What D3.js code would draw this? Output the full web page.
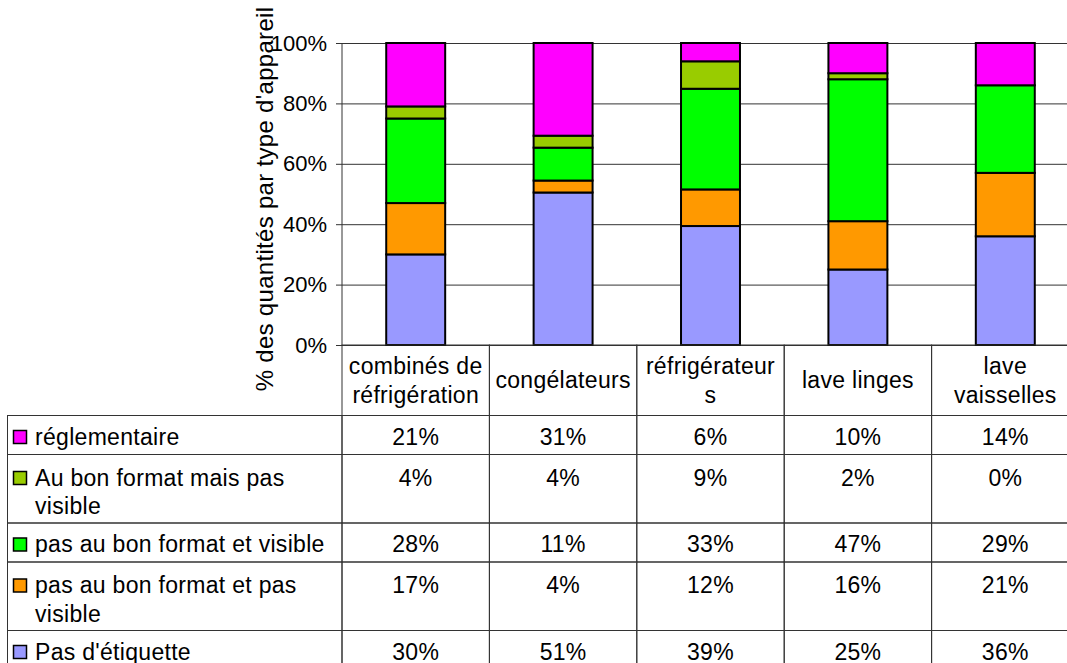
<!DOCTYPE html>
<html><head><meta charset="utf-8">
<script src="https://cdn.jsdelivr.net/npm/d3@7"></script>
<style>
html,body{margin:0;padding:0;background:#fff;overflow:hidden;}
svg{display:block;font-family:"Liberation Sans",Arial,sans-serif;}
</style></head>
<body>
<svg id="chart" width="1067" height="663"></svg>
<script>
// ---- data ----
const categories = ["combinés de réfrigération", "congélateurs", "réfrigérateurs", "lave linges", "lave vaisselles"];
const categoryLines = [["combinés de", "réfrigération"], ["congélateurs"], ["réfrigérateur", "s"], ["lave linges"], ["lave", "vaisselles"]];
// series, bottom of stack first
const seriesKeys = ["pasEtiquette", "pasFormatPasVisible", "pasFormatVisible", "bonFormatPasVisible", "reglementaire"];
const seriesLines = [["Pas d'étiquette"], ["pas au bon format et pas", "visible"], ["pas au bon format et visible"], ["Au bon format mais pas", "visible"], ["réglementaire"]];
const seriesColors = ["#9999FF", "#FF9900", "#00FF00", "#99CC00", "#FF00FF"];
const pasEtiquette = [30, 51, 39, 25, 36];
const pasFormatPasVisible = [17, 4, 12, 16, 21];
const pasFormatVisible = [28, 11, 33, 47, 29];
const bonFormatPasVisible = [4, 4, 9, 2, 0];
const reglementaire = [21, 31, 6, 10, 14];
const yTicks = [0, 0.2, 0.4, 0.6, 0.8, 1];
const yTitle = "% des quantités par type d'appareil";

const seriesValues = {pasEtiquette, pasFormatPasVisible, pasFormatVisible, bonFormatPasVisible, reglementaire};
const rows = categories.map((c, i) => {
  const o = {category: c};
  seriesKeys.forEach(k => o[k] = seriesValues[k][i]);
  return o;
});

// ---- layout ----
const svg = d3.select("#chart");
const plotLeft = 342, bandW = 147.4;
const plotTop = 43, plotBottom = 345;
const tableLeft = 7.5;
const fs = 23;

const x = d3.scaleBand().domain(categories).range([plotLeft, plotLeft + bandW * categories.length]).padding(0);
const y = d3.scaleLinear().domain([0, 1]).range([plotBottom, plotTop]);
const color = d3.scaleOrdinal().domain(seriesKeys).range(seriesColors);

// gridlines
svg.append("g")
  .attr("transform", `translate(${plotLeft},0)`)
  .call(d3.axisLeft(y).tickValues(yTicks).tickSize(-(1067 - plotLeft)).tickFormat(""))
  .call(g => g.select(".domain").remove())
  .call(g => g.selectAll("line").attr("stroke", "#333").attr("stroke-width", 1));

// y axis
svg.append("g")
  .attr("transform", `translate(${plotLeft},0)`)
  .call(d3.axisLeft(y).tickValues(yTicks).tickSize(6).tickPadding(9).tickFormat(d3.format(".0%")))
  .call(g => g.select(".domain").attr("stroke", "#333").attr("d", `M0,${plotTop}V${plotBottom}`))
  .call(g => g.selectAll("line").attr("stroke", "#333"))
  .call(g => g.selectAll("text").attr("font-size", 22).attr("fill", "#000").attr("font-family", "Liberation Sans, Arial, sans-serif"));

// y title
svg.append("text")
  .attr("transform", `translate(273,199) rotate(-90)`)
  .attr("text-anchor", "middle")
  .attr("font-size", 24)
  .attr("letter-spacing", 0.3)
  .text(yTitle);

// bars
const stack = d3.stack().keys(seriesKeys).offset(d3.stackOffsetExpand);
const stacked = stack(rows);
const barW = bandW * 0.4;
svg.append("g").selectAll("g").data(stacked).join("g")
  .attr("fill", d => color(d.key))
  .selectAll("rect").data(d => d).join("rect")
  .attr("x", d => x(d.data.category) + (bandW - barW) / 2)
  .attr("width", barW)
  .attr("y", d => y(d[1]))
  .attr("height", d => y(d[0]) - y(d[1]))
  .attr("stroke", "#000")
  .attr("stroke-width", 2);

// ---- data table ----
const tbl = svg.append("g");
const lineStroke = "#333";
const lineH = 28.5;

// header row
const headerTop = plotBottom, headerH = 70.5;
categories.forEach((c, i) => {
  const x0 = x(c);
  tbl.append("rect").attr("x", x0).attr("y", headerTop).attr("width", bandW).attr("height", headerH)
    .attr("fill", "none").attr("stroke", lineStroke).attr("stroke-width", 1);
  const lines = categoryLines[i];
  const cy = headerTop + headerH / 2;
  lines.forEach((ln, j) => {
    tbl.append("text")
      .attr("x", x0 + bandW / 2)
      .attr("y", cy + 8 + (j - (lines.length - 1) / 2) * lineH)
      .attr("text-anchor", "middle").attr("font-size", fs).attr("letter-spacing", 0.3)
      .text(ln);
  });
});

// body rows: top to bottom = reverse of stack order
let rowTop = headerTop + headerH;
const order = d3.range(seriesKeys.length).reverse();
order.forEach(si => {
  const lines = seriesLines[si];
  const h = 9.5 + 29.5 * lines.length;
  tbl.append("rect").attr("x", tableLeft).attr("y", rowTop).attr("width", plotLeft - tableLeft).attr("height", h)
    .attr("fill", "none").attr("stroke", lineStroke).attr("stroke-width", 1);
  const firstBase = rowTop + (lines.length === 1 ? h / 2 + 9.5 : 31);
  tbl.append("rect").attr("x", 13.5).attr("y", firstBase - 14).attr("width", 13).attr("height", 13)
    .attr("fill", seriesColors[si]).attr("stroke", "#000").attr("stroke-width", 1.5);
  lines.forEach((ln, j) => {
    tbl.append("text").attr("x", 35).attr("y", firstBase + j * lineH)
      .attr("font-size", fs).attr("letter-spacing", 0.3).text(ln);
  });
  categories.forEach((c, ci) => {
    tbl.append("rect").attr("x", x(c)).attr("y", rowTop).attr("width", bandW).attr("height", h)
      .attr("fill", "none").attr("stroke", lineStroke).attr("stroke-width", 1);
    tbl.append("text").attr("x", x(c) + bandW / 2).attr("y", firstBase)
      .attr("text-anchor", "middle").attr("font-size", fs).attr("letter-spacing", 0.3)
      .text(seriesValues[seriesKeys[si]][ci] + "%");
  });
  rowTop += h;
});
</script>
</body></html>
